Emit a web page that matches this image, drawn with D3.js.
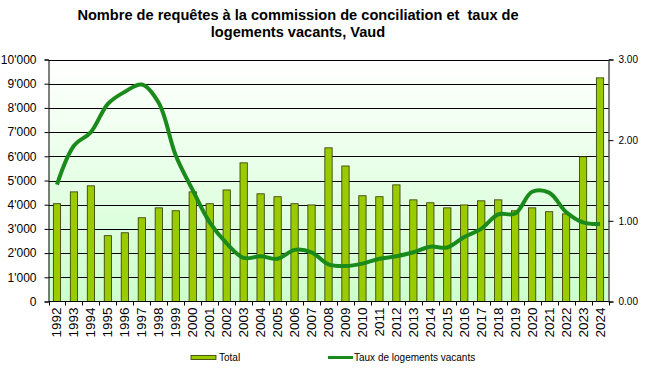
<html>
<head>
  <style>
    body { margin: 0; background: #fff; }
    text { font-family: Arial, "Liberation Sans", sans-serif; }
  </style>
</head>
<body>
<script src="https://d3js.org/d3.v7.min.js"></script>
<script>
// years on the x axis
var years = ["1992","1993","1994","1995","1996","1997","1998","1999","2000","2001","2002",
  "2003","2004","2005","2006","2007","2008","2009","2010","2011","2012","2013","2014",
  "2015","2016","2017","2018","2019","2020","2021","2022","2023","2024"];

// requests to the conciliation commission (left axis)
var total = [4040, 4530, 4780, 2720, 2840, 3460, 3870, 3750, 4530, 4040, 4610,
  5730, 4450, 4330, 4040, 3990, 6350, 5600, 4370, 4330, 4820, 4200, 4080,
  3870, 3990, 4160, 4200, 3750, 3870, 3710, 3620, 5980, 9240];

// vacancy rate (right axis)
var taux = [1.45, 1.93, 2.10, 2.45, 2.60, 2.69, 2.46, 1.81, 1.38, 0.98, 0.72,
  0.54, 0.56, 0.53, 0.64, 0.61, 0.46, 0.44, 0.47, 0.53, 0.56, 0.61, 0.68,
  0.67, 0.80, 0.90, 1.08, 1.09, 1.36, 1.35, 1.11, 0.98, 0.96];

var leftTicks = [0, 1000, 2000, 3000, 4000, 5000, 6000, 7000, 8000, 9000, 10000];
var rightTicks = [0, 1, 2, 3];

var width = 651, height = 369;
// plot area edges
var pLeft = 48.5, pRight = 608.5, pTop = 59.5, pBottom = 301.5;

var svg = d3.select('body').append('svg')
  .attr('width', width)
  .attr('height', height);

// gradient for plot background
var grad = svg.append('defs').append('linearGradient')
  .attr('id', 'bg').attr('x1', 0).attr('x2', 0).attr('y1', 0).attr('y2', 1);
grad.append('stop').attr('offset', '0%').attr('stop-color', '#ffffff');
grad.append('stop').attr('offset', '100%').attr('stop-color', '#ccffcc');

var x = d3.scaleBand().domain(years).range([pLeft, pRight]).paddingInner(0).paddingOuter(0);
var yL = d3.scaleLinear().domain([0, 10000]).range([pBottom, pTop]);
var yR = d3.scaleLinear().domain([0, 3]).range([pBottom, pTop]);

svg.append('rect')
  .attr('x', pLeft).attr('y', pTop)
  .attr('width', pRight - pLeft).attr('height', pBottom - pTop)
  .attr('fill', 'url(#bg)');

// title
svg.append('text').attr('x', 298).attr('y', 20).attr('text-anchor', 'middle')
  .style('font-weight', 'bold').style('font-size', '14.6px').style('white-space', 'pre')
  .text('Nombre de requêtes à la commission de conciliation et  taux de');
svg.append('text').attr('x', 298).attr('y', 37).attr('text-anchor', 'middle')
  .style('font-weight', 'bold').style('font-size', '14.6px')
  .text('logements vacants, Vaud');

// gridlines
svg.append('g').selectAll('line').data(leftTicks.slice(1)).enter().append('line')
  .attr('x1', pLeft).attr('x2', pRight)
  .attr('y1', function(d){ return Math.round(yL(d)) + 0.5; })
  .attr('y2', function(d){ return Math.round(yL(d)) + 0.5; })
  .attr('stroke', '#000').attr('stroke-width', 1);

// bars
var bw = 7.3;
svg.append('g').selectAll('rect').data(total).enter().append('rect')
  .attr('x', function(d, i){ return x(years[i]) + x.bandwidth() / 2 - bw / 2; })
  .attr('y', function(d){ return yL(d); })
  .attr('width', bw)
  .attr('height', function(d){ return pBottom - yL(d); })
  .attr('fill', '#99cc00')
  .attr('stroke', '#333300')
  .attr('stroke-width', 0.8);

// left axis
var axL = svg.append('g').attr('transform', 'translate(' + pLeft + ',0)')
  .call(d3.axisLeft(yL).tickValues(leftTicks).tickSize(4).tickPadding(8)
    .tickFormat(function(d){ return d3.format(',')(d).replace(',', "'"); }));
axL.select('.domain').attr('stroke', '#000');
axL.selectAll('text').style('font-size', '12px').attr('fill', '#000')
  .style('font-family', 'Arial, "Liberation Sans", sans-serif');

// right axis
var axR = svg.append('g').attr('transform', 'translate(' + pRight + ',0)')
  .call(d3.axisRight(yR).tickValues(rightTicks).tickSize(5).tickPadding(5)
    .tickFormat(d3.format('.2f')));
axR.select('.domain').attr('stroke', '#000');
axR.selectAll('text').style('font-size', '10px').attr('fill', '#000')
  .style('font-family', 'Arial, "Liberation Sans", sans-serif');

// x axis
svg.append('line').attr('x1', pLeft).attr('x2', pRight)
  .attr('y1', pBottom).attr('y2', pBottom).attr('stroke', '#000');
svg.append('g').selectAll('line').data(years.concat(['end'])).enter().append('line')
  .attr('x1', function(d, i){ return Math.round(pLeft + i * x.bandwidth()) + 0.5; })
  .attr('x2', function(d, i){ return Math.round(pLeft + i * x.bandwidth()) + 0.5; })
  .attr('y1', pBottom).attr('y2', pBottom + 4)
  .attr('stroke', '#000');
svg.append('g').selectAll('text').data(years).enter().append('text')
  .attr('transform', function(d){
    return 'translate(' + (x(d) + x.bandwidth() / 2 + 4.5) + ',' + (pBottom + 6) + ') rotate(-90)';
  })
  .attr('text-anchor', 'end')
  .style('font-size', '13.5px')
  .text(function(d){ return d; });

// vacancy rate line
var line = d3.line()
  .x(function(d, i){ return x(years[i]) + x.bandwidth() / 2; })
  .y(function(d){ return yR(d); })
  .curve(d3.curveCatmullRom.alpha(0.5));
svg.append('path').datum(taux)
  .attr('d', line)
  .attr('fill', 'none')
  .attr('stroke', '#1a8a1a')
  .attr('stroke-width', 4)
  .attr('stroke-linejoin', 'round');

// legend
svg.append('rect').attr('x', 191).attr('y', 355.5).attr('width', 25).attr('height', 4)
  .attr('fill', '#99cc00').attr('stroke', '#333300').attr('stroke-width', 0.8);
svg.append('text').attr('x', 219).attr('y', 361).style('font-size', '10px').text('Total');
svg.append('line').attr('x1', 328).attr('x2', 353).attr('y1', 357.5).attr('y2', 357.5)
  .attr('stroke', '#1a8a1a').attr('stroke-width', 3);
svg.append('text').attr('x', 354).attr('y', 361).style('font-size', '10px').text('Taux de logements vacants');
</script>
</body>
</html>
